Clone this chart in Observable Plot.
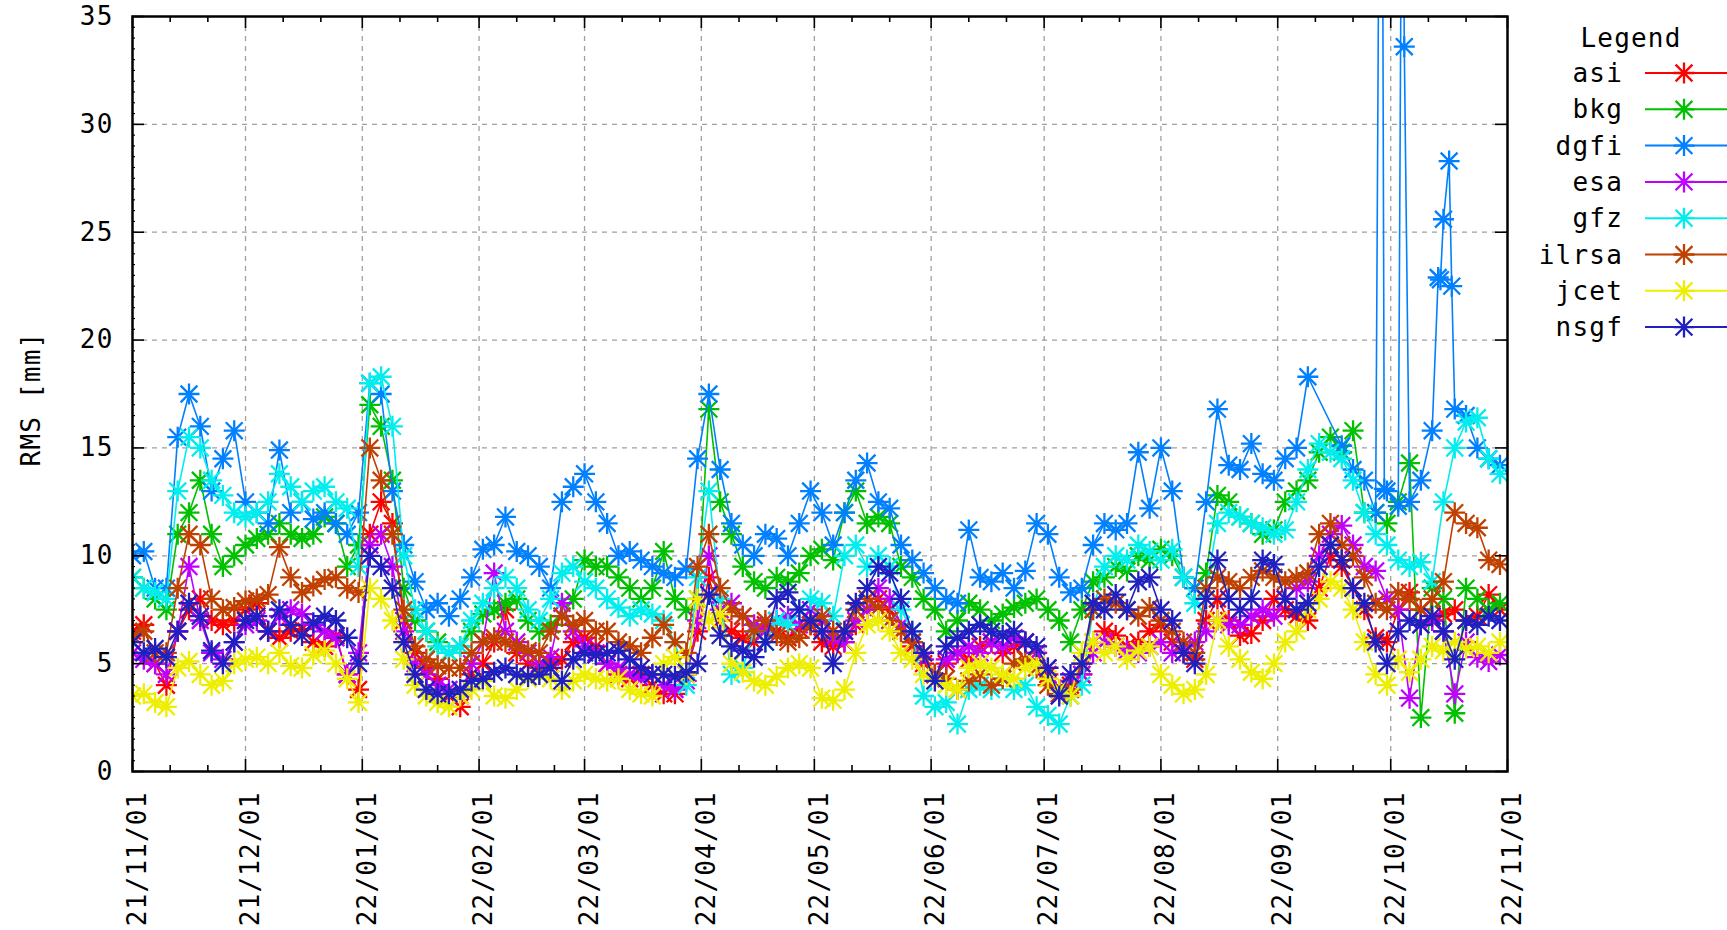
<!DOCTYPE html>
<html>
<head>
<meta charset="utf-8">
<script src="https://cdn.jsdelivr.net/npm/d3@7"></script>
<script src="https://cdn.jsdelivr.net/npm/@observablehq/plot@0.6"></script>
<style>
  html, body { margin: 0; padding: 0; background: #fff; }
  #wrap { position: relative; width: 1727px; height: 930px; overflow: hidden; }
</style>
</head>
<body>
<div id="wrap"></div>
<script>
// Daily RMS per analysis centre, sampled every 3 days from 2021-11-01.
const startDate = "2021-11-01";
const stepDays = 3;

const seriesNames = ["asi", "bkg", "dgfi", "esa", "gfz", "ilrsa", "jcet", "nsgf"];
const seriesColors = ["#ff0000", "#00c000", "#0080ff", "#c000ff", "#00eeee", "#c04000", "#eeee00", "#2020c0"];

const asi = [
  6.5, 6.8, 5.0, 4.0, 6.5, 7.5, 8.0, 7.0, 6.8, 7.0, 7.5, 7.8, 6.5, 6.2, 6.5, 6.6, 6.0, 5.8, 6.3, 4.5, 3.8,
  11.0, 12.5, 11.5, 7.0, 5.5, 4.8, 4.3, 3.5, 3.0, 4.5, 5.0, 6.0, 7.5, 5.5, 5.0, 4.8, 5.0, 5.2, 6.0, 6.2, 5.8,
  5.0, 4.5, 4.3, 4.5, 4.0, 3.6, 3.6, 4.5, 6.5, 9.0, 7.0, 6.5, 6.2, 6.0, 6.8, 6.5, 6.2, 6.6, 6.8, 6.0, 5.8,
  6.0, 6.8, 7.5, 8.0, 7.5, 6.5, 5.8, 5.0, 4.5, 5.0, 5.5, 5.2, 5.8, 6.0, 5.5, 5.8, 6.0, 5.5, 4.5, 3.8, 4.0,
  4.5, 6.0, 6.5, 6.3, 5.8, 6.0, 6.5, 6.8, 6.0, 5.5, 5.2, 7.0, 8.0, 7.0, 6.3, 6.4, 7.0, 8.0, 7.5, 7.2, 7.0,
  8.5, 10.0, 9.5, 8.5, 7.5, 6.2, 6.0, 7.5, 8.3, 7.5, 7.0, 7.3, 7.5, 7.0, 7.2, 8.2, 7.5
];
const bkg = [
  9.0, 8.5, 8.0, 7.5, 11.0, 12.0, 13.5, 11.0, 9.5, 10.0, 10.5, 10.8, 11.0, 11.5, 11.0, 10.8, 11.0, 11.8, 11.5, 9.5, 10.5,
  17.0, 16.0, 13.5, 8.5, 7.0, 6.5, 6.0, 5.5, 5.8, 6.5, 7.3, 7.5, 7.8, 8.0, 7.0, 6.5, 6.8, 7.2, 8.0, 9.8, 9.5,
  9.5, 9.0, 8.5, 8.0, 8.5, 10.2, 8.0, 7.5, 8.0, 16.8, 12.5, 11.0, 9.5, 8.8, 8.5, 9.0, 8.8, 9.2, 10.0, 10.3, 9.8,
  12.0, 13.0, 11.5, 11.8, 11.5, 9.5, 9.0, 8.0, 7.5, 6.5, 7.0, 7.8, 7.5, 7.0, 7.3, 7.6, 7.8, 8.0, 7.5, 7.0, 6.0,
  7.5, 8.8, 9.0, 9.5, 9.3, 10.0, 9.8, 10.3, 10.0, 9.0, 8.5, 9.2, 12.8, 12.5, 11.8, 11.5, 11.0, 11.2, 12.5, 13.0, 13.5,
  14.8, 15.5, 14.8, 15.8, 12.0, 12.0, 11.5, 12.5, 14.3, 2.5, 8.5, 8.0, 2.7, 8.5, 8.0, 7.5, 7.8
];
const dgfi = [
  10.0, 10.2, 8.5, 8.5, 15.5, 17.5, 16.0, 13.0, 14.5, 15.8, 12.5, 12.0, 11.5, 14.9, 12.0, 12.5, 11.7, 12.0, 11.5, 11.0, 12.0,
  18.0, 17.5, 13.0, 10.5, 8.8, 7.5, 7.8, 7.2, 8.0, 9.0, 10.3, 10.5, 11.8, 10.2, 10.0, 9.5, 8.5, 12.5, 13.2, 13.8, 12.5,
  11.5, 10.0, 10.2, 9.8, 9.5, 9.2, 9.0, 9.4, 14.5, 17.5, 14.0, 11.5, 10.5, 10.0, 11.0, 10.8, 10.0, 11.5, 13.0, 12.0, 10.5,
  12.0, 13.5, 14.3, 12.5, 12.2, 10.5, 9.8, 9.2, 8.5, 8.0, 7.8, 11.2, 9.0, 8.8, 9.2, 8.5, 9.3, 11.5, 11.0, 9.0, 8.3,
  8.5, 10.5, 11.5, 11.2, 11.5, 14.8, 12.2, 15.0, 13.0, 9.0, 8.5, 12.5, 16.8, 14.2, 14.0, 15.2, 13.8, 13.5, 14.5, 15.0, 18.3,
  null, null, 15.1, 14.0, 13.5, 12.0, 13.0, 12.3, 12.5, 13.5, 15.8, 25.6, 16.8, 16.5, 15.0, 14.5, 14.2
];
// dgfi solutions between the regular samples in October (days after start, RMS)
const dgfiExtraDays = [331.5, 332.3, 337.1, 337.6, 346.6, 347.2, 349.5, 350.2];
const dgfiExtraValues = [60, 13.1, 50, 33.6, 22.9, 22.8, 28.3, 22.5];
const esa = [
  5.5, 5.2, 5.0, 4.5, 6.5, 9.5, 7.0, 5.5, 5.2, 6.0, 6.8, 7.0, 6.5, 7.2, 7.5, 7.3, 6.8, 6.5, 6.2, 4.5, 5.5,
  10.5, 11.0, 9.5, 6.5, 5.0, 4.5, 4.0, 3.8, 3.5, 5.0, 6.0, 9.2, 6.5, 6.0, 5.5, 5.0, 5.3, 7.8, 6.5, 5.8, 5.5,
  5.0, 4.8, 4.5, 4.3, 4.5, 4.0, 3.8, 4.2, 7.0, 10.0, 7.5, 7.8, 7.2, 6.8, 6.5, 7.0, 7.2, 6.8, 7.5, 7.0, 6.2,
  6.0, 7.0, 7.5, 8.5, 8.0, 6.8, 6.0, 5.2, 4.5, 5.2, 5.5, 5.8, 5.5, 6.0, 5.8, 6.2, 6.0, 5.5, 4.8, 3.8, 4.2,
  4.5, 5.5, 6.0, 5.8, 5.6, 5.5, 5.8, 6.0, 5.5, 5.8, 6.0, 6.5, 7.0, 6.8, 6.8, 7.2, 7.5, 7.2, 8.0, 8.5, 8.8,
  10.0, 11.0, 11.4, 10.5, 9.5, 9.3, 8.0, 7.5, 3.4, 6.8, 7.0, 6.5, 3.6, 6.0, 5.3, 5.1, 5.4
];
const gfz = [
  9.0, 8.5, 8.3, 8.0, 13.0, 15.5, 15.0, 13.5, 12.8, 12.0, 11.8, 12.0, 12.5, 13.8, 13.2, 12.5, 13.0, 13.2, 12.5, 12.2, 9.5,
  18.0, 18.3, 16.0, 10.0, 7.5, 6.5, 5.8, 5.5, 5.8, 7.0, 7.8, 8.5, 9.0, 8.5, 7.5, 7.0, 8.0, 9.2, 9.5, 8.8, 8.5,
  8.0, 7.6, 7.2, 7.5, 7.3, 7.0, 6.0, 4.0, 9.0, 13.0, 8.0, 4.5, 4.8, 6.5, 6.0, 7.0, 6.8, 7.5, 8.0, 7.8, 7.2,
  10.0, 10.5, 9.5, 10.0, 9.5, 7.5, 6.5, 3.5, 3.0, 3.2, 2.2, 3.8, 4.0, 3.8, 4.3, 3.8, 4.0, 3.0, 2.6, 2.2, 3.5,
  4.0, 7.5, 9.5, 10.0, 9.8, 10.5, 10.2, 9.8, 10.3, 9.0, 7.8, 8.5, 11.5, 12.0, 11.8, 11.5, 11.3, 11.0, 11.2, 12.5, 14.0,
  15.2, 14.8, 14.5, 13.5, 12.0, 11.0, 10.5, 9.8, 9.5, 9.7, 8.8, 12.5, 15.0, 16.2, 16.4, 14.5, 13.8
];
const ilrsa = [
  6.3, 6.5, 5.5, 5.5, 8.5, 11.0, 10.5, 8.0, 7.5, 7.6, 7.9, 8.0, 8.2, 10.4, 9.0, 8.3, 8.6, 8.9, 9.0, 8.5, 8.3,
  15.0, 13.5, 11.0, 7.5, 5.8, 5.2, 4.9, 4.8, 4.8, 5.5, 6.0, 6.2, 6.0, 5.8, 5.6, 5.5, 6.5, 7.2, 6.8, 7.0, 6.5,
  6.5, 6.0, 5.8, 5.5, 6.2, 6.8, 6.0, 5.5, 9.5, 11.0, 8.5, 7.5, 7.2, 6.5, 7.0, 6.3, 6.0, 6.2, 6.8, 7.2, 6.5,
  6.5, 7.5, 8.0, 7.6, 7.0, 6.5, 6.0, 5.5, 4.5, 4.3, 3.8, 4.2, 4.5, 4.0, 4.3, 5.0, 5.2, 4.8, 4.0, 3.6, 3.8,
  5.0, 7.5, 8.0, 7.8, 7.5, 7.2, 7.6, 7.0, 6.5, 6.0, 5.5, 8.5, 9.0, 8.8, 8.5, 9.0, 9.3, 9.0, 8.8, 9.0, 9.2,
  11.0, 11.5, 10.5, 10.0, 9.0, 7.8, 7.5, 8.3, 8.0, 7.5, 8.0, 8.8, 12.0, 11.5, 11.3, 9.8, 9.6
];
const jcet = [
  3.5, 3.6, 3.2, 3.0, 4.8, 5.1, 4.5, 4.0, 4.2, 5.0, 5.2, 5.3, 5.0, 5.5, 4.9, 4.8, 5.4, 5.6, 5.0, 4.3, 3.2,
  8.5, 8.0, 7.0, 5.2, 4.0, 3.5, 3.2, 3.0, 3.5, 3.8, 4.2, 3.5, 3.4, 3.8, 4.3, 4.5, 4.3, 3.8, 4.2, 4.5, 4.3,
  4.2, 4.3, 3.8, 3.6, 3.5, 5.0, 5.3, 4.5, 8.0, 7.0, 7.3, 5.0, 4.6, 4.2, 4.0, 4.4, 4.8, 5.0, 4.8, 3.4, 3.3,
  3.8, 5.5, 6.8, 7.0, 6.5, 5.5, 5.2, 4.5, 4.2, 4.0, 3.8, 4.8, 5.0, 4.8, 4.5, 4.3, 4.8, 5.0, 4.3, 3.8, 3.5,
  5.5, 6.0, 5.5, 5.8, 5.2, 5.6, 5.8, 4.5, 4.0, 3.6, 3.8, 4.5, 7.0, 5.8, 5.2, 4.6, 4.3, 5.0, 6.0, 6.5, 7.5,
  8.0, 8.8, 8.5, 7.5, 6.0, 4.5, 4.0, 5.2, 4.6, 5.2, 5.8, 5.6, 6.0, 5.7, 5.8, 5.5, 6.0
];
const nsgf = [
  6.0, 5.5, 5.7, 5.3, 6.5, 7.8, 7.2, 5.6, 5.0, 6.0, 7.0, 7.2, 6.5, 7.5, 6.8, 6.3, 6.9, 7.2, 7.0, 6.2, 5.0,
  10.0, 9.5, 8.5, 6.0, 4.5, 3.8, 3.6, 3.6, 3.8, 4.2, 4.3, 4.6, 4.8, 4.5, 4.4, 4.5, 4.8, 4.2, 5.2, 5.5, 5.4,
  5.5, 5.6, 5.2, 4.8, 4.5, 4.5, 4.4, 4.6, 5.0, 8.2, 6.3, 5.8, 5.6, 5.3, 6.0, 8.0, 8.3, 7.5, 7.0, 6.5, 5.0,
  6.5, 7.8, 8.5, 9.5, 9.2, 8.0, 6.5, 5.5, 4.2, 5.8, 6.2, 6.5, 6.8, 6.5, 6.3, 6.5, 6.0, 5.8, 4.8, 3.5, 4.5,
  5.0, 7.8, 7.5, 8.2, 7.5, 8.8, 9.0, 7.5, 7.0, 5.5, 5.0, 8.0, 9.8, 8.0, 7.5, 8.0, 9.8, 9.6, 8.0, 7.5, 7.8,
  9.5, 10.5, 9.8, 8.5, 7.8, 6.0, 5.0, 6.5, 7.0, 6.8, 7.2, 6.5, 5.2, 7.0, 6.8, 7.2, 7.0
];
const seriesValues = [asi, bkg, dgfi, esa, gfz, ilrsa, jcet, nsgf];

const yTicks = [0, 5, 10, 15, 20, 25, 30, 35];
const xTickLabels = ["21/11/01", "21/12/01", "22/01/01", "22/02/01", "22/03/01", "22/04/01", "22/05/01",
                     "22/06/01", "22/07/01", "22/08/01", "22/09/01", "22/10/01", "22/11/01"];
const yLabel = "RMS [mm]";
const legendTitle = "Legend";

// ---- long-format rows ----
const DAY = 864e5;
const t0 = d3.utcParse("%Y-%m-%d")(startDate);
const rows = [];
seriesNames.forEach((name, k) => {
  let pts = seriesValues[k]
    .map((v, i) => ({day: i * stepDays, value: v}))
    .filter(p => p.value != null);
  if (name === "dgfi") {
    pts = pts.concat(dgfiExtraDays.map((d, i) => ({day: d, value: dgfiExtraValues[i]})))
             .sort((a, b) => a.day - b.day);
  }
  pts.forEach(p => rows.push({series: name, date: new Date(+t0 + p.day * DAY), value: p.value}));
});

// gnuplot-style asterisk: "+" overlaid with "x"
const star = {
  draw(ctx, size) {
    const r = Math.sqrt(size / Math.PI);
    const d = r * 0.8;
    ctx.moveTo(-r, 0); ctx.lineTo(r, 0);
    ctx.moveTo(0, -r); ctx.lineTo(0, r);
    ctx.moveTo(-d, -d); ctx.lineTo(d, d);
    ctx.moveTo(-d, d); ctx.lineTo(d, -d);
  }
};

// ---- layout ----
const W = 1727, H = 930, ML = 132, MR = 220, MT = 16, MB = 159;
const PW = W - ML - MR, PH = H - MT - MB;
const MAJOR = 12, MINOR = 6, MINOR_Y = 3;
const FONT = '"DejaVu Sans Mono", "Liberation Mono", monospace';

const parseTick = d3.utcParse("%y/%m/%d");
const majorX = xTickLabels.map(parseTick);
const minorX = majorX.slice(0, -1).flatMap(m => [d3.utcDay.offset(m, 10), d3.utcDay.offset(m, 20)]);
const minorY = d3.range(1, 70).map(i => i / 2).filter(v => v % 5 !== 0);

const grid = {stroke: "#a0a0a0", strokeWidth: 1.3, strokeDasharray: "5,5"};
const tick = {stroke: "#000", strokeWidth: 1.6};

const seriesMarks = seriesNames.flatMap((name, k) => {
  const data = rows.filter(d => d.series === name);
  return [
    Plot.line(data, {x: "date", y: "value", stroke: seriesColors[k], strokeWidth: 1.6, clip: true}),
    Plot.dot(data, {x: "date", y: "value", r: 10.5, symbol: star, fill: "none",
                    stroke: seriesColors[k], strokeWidth: 2.3, clip: true})
  ];
});

const chart = Plot.plot({
  width: W, height: H,
  marginLeft: ML, marginRight: MR, marginTop: MT, marginBottom: MB,
  style: {fontFamily: FONT, fontSize: "26px", letterSpacing: "1.2px", background: "#fff", color: "#000"},
  x: {type: "utc", domain: [majorX[0], majorX[majorX.length - 1]]},
  y: {domain: [0, 35]},
  marks: [
    Plot.ruleY(yTicks.slice(1, -1), grid),
    Plot.ruleX(majorX.slice(1, -1), grid),
    ...seriesMarks,
    Plot.ruleY(yTicks, {...tick, insetRight: PW - MAJOR}),
    Plot.ruleY(yTicks, {...tick, insetLeft: PW - MAJOR}),
    Plot.ruleY(minorY, {...tick, strokeWidth: 1.2, insetRight: PW - MINOR_Y}),
    Plot.ruleX(majorX, {...tick, insetTop: PH - MAJOR}),
    Plot.ruleX(majorX, {...tick, insetBottom: PH - MAJOR}),
    Plot.ruleX(minorX, {...tick, insetTop: PH - MINOR}),
    Plot.ruleX(minorX, {...tick, insetBottom: PH - MINOR}),
    Plot.axisX(majorX, {tickFormat: d3.utcFormat("%y/%m/%d"), tickRotate: -90, tickSize: 0,
                        tickPadding: 20, dx: 5, label: null}),
    Plot.axisY(yTicks, {tickSize: 0, tickPadding: 19, label: null}),
    Plot.text([yLabel], {text: d => d, frameAnchor: "left", textAnchor: "middle", rotate: -90,
                         dx: -101, dy: 5, fill: "#000"}),
    Plot.frame({stroke: "#000", strokeWidth: 2.5})
  ]
});

const wrap = document.getElementById("wrap");
wrap.appendChild(chart);

// ---- legend (right of the plot frame) ----
const LX = 1427;
const legend = d3.create("svg")
  .attr("width", W - LX).attr("height", 360)
  .style("position", "absolute").style("left", LX + "px").style("top", "0px")
  .style("font-family", FONT).style("font-size", "26px").style("letter-spacing", "1.2px");

legend.append("text")
  .attr("x", 204).attr("y", 38).attr("dy", "0.35em")
  .attr("text-anchor", "middle").attr("fill", "#000")
  .text(legendTitle);

const starPath = d3.symbol().type(star).size(Math.PI * 10.5 * 10.5)();
seriesNames.forEach((name, k) => {
  const g = legend.append("g").attr("transform", `translate(0,${73 + 36.3 * k})`);
  g.append("text").attr("x", 196).attr("dy", "0.35em")
    .attr("text-anchor", "end").attr("fill", "#000").text(name);
  g.append("line").attr("x1", 218).attr("x2", W - LX).attr("y1", 0).attr("y2", 0)
    .attr("stroke", seriesColors[k]).attr("stroke-width", 2);
  g.append("path").attr("d", starPath).attr("transform", "translate(257,0)")
    .attr("fill", "none").attr("stroke", seriesColors[k]).attr("stroke-width", 2.3);
});
wrap.appendChild(legend.node());
</script>
</body>
</html>
